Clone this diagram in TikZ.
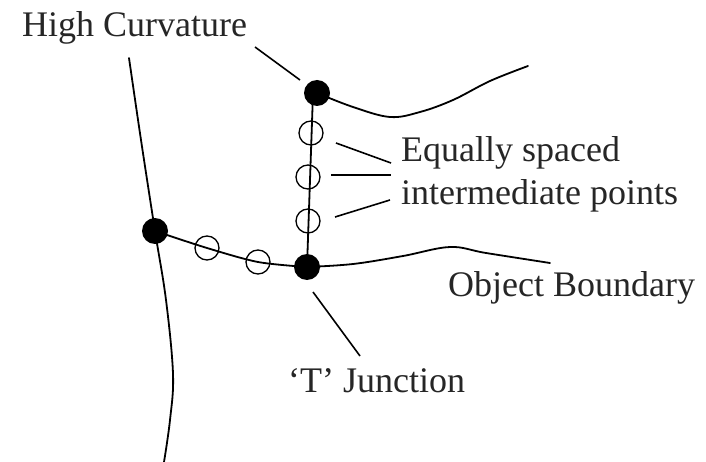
\documentclass[tikz,border=0pt]{standalone}
\usepackage{fontspec}
\setmainfont{Liberation Serif}
\begin{document}
\begin{tikzpicture}[x=1pt,y=-1pt,
  curve/.style={line width=1.8pt,line join=round,line cap=round},
  leader/.style={line width=1.6pt},
  bigdot/.style={circle,fill=black,minimum size=26pt,inner sep=0pt},
  ring/.style={circle,draw=black,line width=1.3pt,minimum size=24pt,inner sep=0pt},
  lbl/.style={anchor=base west,inner sep=0pt,text=black!85,font=\fontsize{36}{43}\selectfont}]
\useasboundingbox (0,0) rectangle (706,462);
% boundaries
\draw[curve] plot[smooth,tension=0.6] coordinates {(129,58) (141,140) (155,231) (166,300) (173,374) (170,420) (164,462)};
\draw[curve] plot[smooth,tension=0.6] coordinates {(317,93) (353,107) (390,117) (420,112) (453,100) (490,81) (528,66)};
\draw[curve] plot[smooth,tension=0.6] coordinates {(307,267) (353,264) (403,256) (450,247) (486,253) (550,263)};
\draw[curve] plot[smooth,tension=0.5] coordinates {(155,231) (207,248) (258,262) (307,267)};
\draw[curve] (313,93) -- (307,267);
% points
\node[bigdot] (hc) at (317,93) {};
\node[bigdot] (ld) at (155,231) {};
\node[bigdot] (tj) at (307,267) {};
\node[ring] (v1) at (311,133) {};
\node[ring] (v2) at (308,177) {};
\node[ring] (v3) at (308,221) {};
\node[ring] (h1) at (207,248) {};
\node[ring] (h2) at (258,262) {};
% labels
\node[lbl] (thc) at (22,37) {High Curvature};
\node[lbl] (tes1) at (401,162) {Equally spaced};
\node[lbl] (tes2) at (401,205) {intermediate points};
\node[lbl] (tob) at (448,296) {Object Boundary};
\node[lbl] (ttj) at (288,392) {‘T’ Junction};
% leader ends
\coordinate (a1) at (255,47);
\coordinate (a2) at (300,80);
\coordinate (b1) at (336,143);
\coordinate (b2) at (391,163);
\coordinate (c1) at (331,175);
\coordinate (c2) at (391,175);
\coordinate (d1) at (335,217);
\coordinate (d2) at (390,200);
\coordinate (e1) at (313,292);
\coordinate (e2) at (360,356);
\draw[leader] (a1) -- (a2);
\draw[leader] (b1) -- (b2);
\draw[leader] (c1) -- (c2);
\draw[leader] (d1) -- (d2);
\draw[leader] (e1) -- (e2);
\end{tikzpicture}
\end{document}
